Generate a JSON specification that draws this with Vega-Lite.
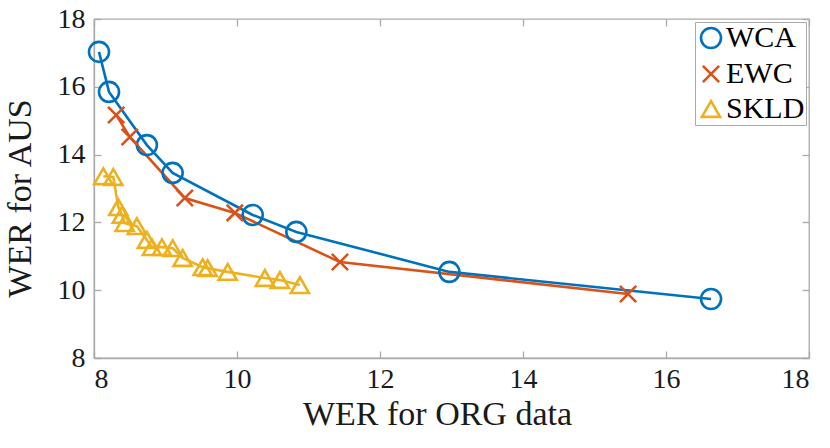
{
  "$schema": "https://vega.github.io/schema/vega-lite/v6.json",
  "width": 715,
  "height": 339,
  "autosize": {"type": "none"},
  "padding": {"left": 94, "top": 19, "right": 21, "bottom": 90},
  "background": "white",
  "config": {
    "view": {"stroke": "#aaaaaa", "strokeWidth": 1.3},
    "font": "Liberation Serif",
    "axis": {
      "grid": false,
      "domainColor": "#aaaaaa",
      "domainWidth": 1.3,
      "tickColor": "#aaaaaa",
      "tickWidth": 1.3,
      "tickSize": -7,
      "labelFont": "Liberation Serif",
      "labelFontSize": 28,
      "labelColor": "#1a1a1a",
      "titleFont": "Liberation Serif",
      "titleFontSize": 34,
      "titleFontWeight": "normal",
      "titleColor": "#1a1a1a"
    },
    "legend": {"labelFont": "Liberation Serif"}
  },
  "data": {
    "values": [
      {"method": "WCA", "x": 8.07, "y": 17.03},
      {"method": "WCA", "x": 8.21, "y": 15.85},
      {"method": "WCA", "x": 8.74, "y": 14.28},
      {"method": "WCA", "x": 9.10, "y": 13.46},
      {"method": "WCA", "x": 10.22, "y": 12.22},
      {"method": "WCA", "x": 10.83, "y": 11.72},
      {"method": "WCA", "x": 12.97, "y": 10.54},
      {"method": "WCA", "x": 16.63, "y": 9.74},
      {"method": "EWC", "x": 8.31, "y": 15.17},
      {"method": "EWC", "x": 8.50, "y": 14.52},
      {"method": "EWC", "x": 9.27, "y": 12.72},
      {"method": "EWC", "x": 9.97, "y": 12.28},
      {"method": "EWC", "x": 11.44, "y": 10.83},
      {"method": "EWC", "x": 15.47, "y": 9.89},
      {"method": "SKLD", "x": 8.13, "y": 13.36},
      {"method": "SKLD", "x": 8.27, "y": 13.34},
      {"method": "SKLD", "x": 8.34, "y": 12.45},
      {"method": "SKLD", "x": 8.39, "y": 12.22},
      {"method": "SKLD", "x": 8.43, "y": 11.98},
      {"method": "SKLD", "x": 8.60, "y": 11.89},
      {"method": "SKLD", "x": 8.74, "y": 11.48},
      {"method": "SKLD", "x": 8.81, "y": 11.27},
      {"method": "SKLD", "x": 8.95, "y": 11.27},
      {"method": "SKLD", "x": 9.10, "y": 11.24},
      {"method": "SKLD", "x": 9.24, "y": 10.95},
      {"method": "SKLD", "x": 9.52, "y": 10.68},
      {"method": "SKLD", "x": 9.59, "y": 10.65},
      {"method": "SKLD", "x": 9.87, "y": 10.54},
      {"method": "SKLD", "x": 10.39, "y": 10.36},
      {"method": "SKLD", "x": 10.60, "y": 10.30},
      {"method": "SKLD", "x": 10.88, "y": 10.15}
    ]
  },
  "layer": [
    {
      "mark": {"type": "line", "strokeWidth": 2.6},
      "encoding": {
        "x": {"field": "x", "type": "quantitative", "scale": {"domain": [8, 18], "nice": false},
              "axis": {"orient": "bottom", "values": [8, 10, 12, 14, 16, 18], "title": "WER for ORG data", "labelPadding": 14, "titlePadding": 4, "titleX": 343}},
        "y": {"field": "y", "type": "quantitative", "scale": {"domain": [8, 18], "nice": false},
              "axis": {"orient": "left", "values": [8, 10, 12, 14, 16, 18], "title": "WER for AUS", "labelPadding": 16, "titlePadding": 20, "titleY": 179}},
        "color": {"field": "method", "type": "nominal",
                  "scale": {"domain": ["WCA", "EWC", "SKLD"], "range": ["#0072BD", "#D95319", "#EDB120"]}},
        "order": {"field": "x", "type": "quantitative"}
      }
    },
    {
      "mark": {"type": "point", "filled": false, "strokeWidth": 2.6, "opacity": 1},
      "encoding": {
        "x": {"field": "x", "type": "quantitative", "axis": null},
        "y": {"field": "y", "type": "quantitative", "axis": null},
        "color": {"field": "method", "type": "nominal",
                  "scale": {"domain": ["WCA", "EWC", "SKLD"], "range": ["#0072BD", "#D95319", "#EDB120"]},
                  "legend": {
                    "title": null,
                    "orient": "top-right",
                    "offset": 3,
                    "padding": 1,
                    "strokeColor": "#aaaaaa",
                    "fillColor": "white",
                    "labelFont": "Liberation Serif",
                    "labelFontSize": 30,
                    "labelColor": "#000000",
                    "labelOffset": 0,
                    "rowPadding": 5,
                    "symbolSize": 300,
                    "symbolStrokeWidth": 2.6,
                    "symbolFillColor": "transparent"
                  }},
        "shape": {"field": "method", "type": "nominal",
                  "scale": {"domain": ["WCA", "EWC", "SKLD"], "range": ["circle", "M-0.85,-0.85L0.85,0.85M-0.85,0.85L0.85,-0.85", "triangle-up"]}},
        "size": {"field": "method", "type": "nominal",
                 "scale": {"domain": ["WCA", "EWC", "SKLD"], "range": [400, 330, 480]}, "legend": null}
      }
    },
    {
      "mark": {"type": "point", "opacity": 0},
      "encoding": {
        "x": {"field": "x", "type": "quantitative",
              "axis": {"orient": "top", "values": [8, 10, 12, 14, 16, 18], "labels": false, "title": null, "domain": false}},
        "y": {"field": "y", "type": "quantitative",
              "axis": {"orient": "right", "values": [8, 10, 12, 14, 16, 18], "labels": false, "title": null, "domain": false}}
      }
    }
  ],
  "resolve": {"axis": {"x": "independent", "y": "independent"}}
}
